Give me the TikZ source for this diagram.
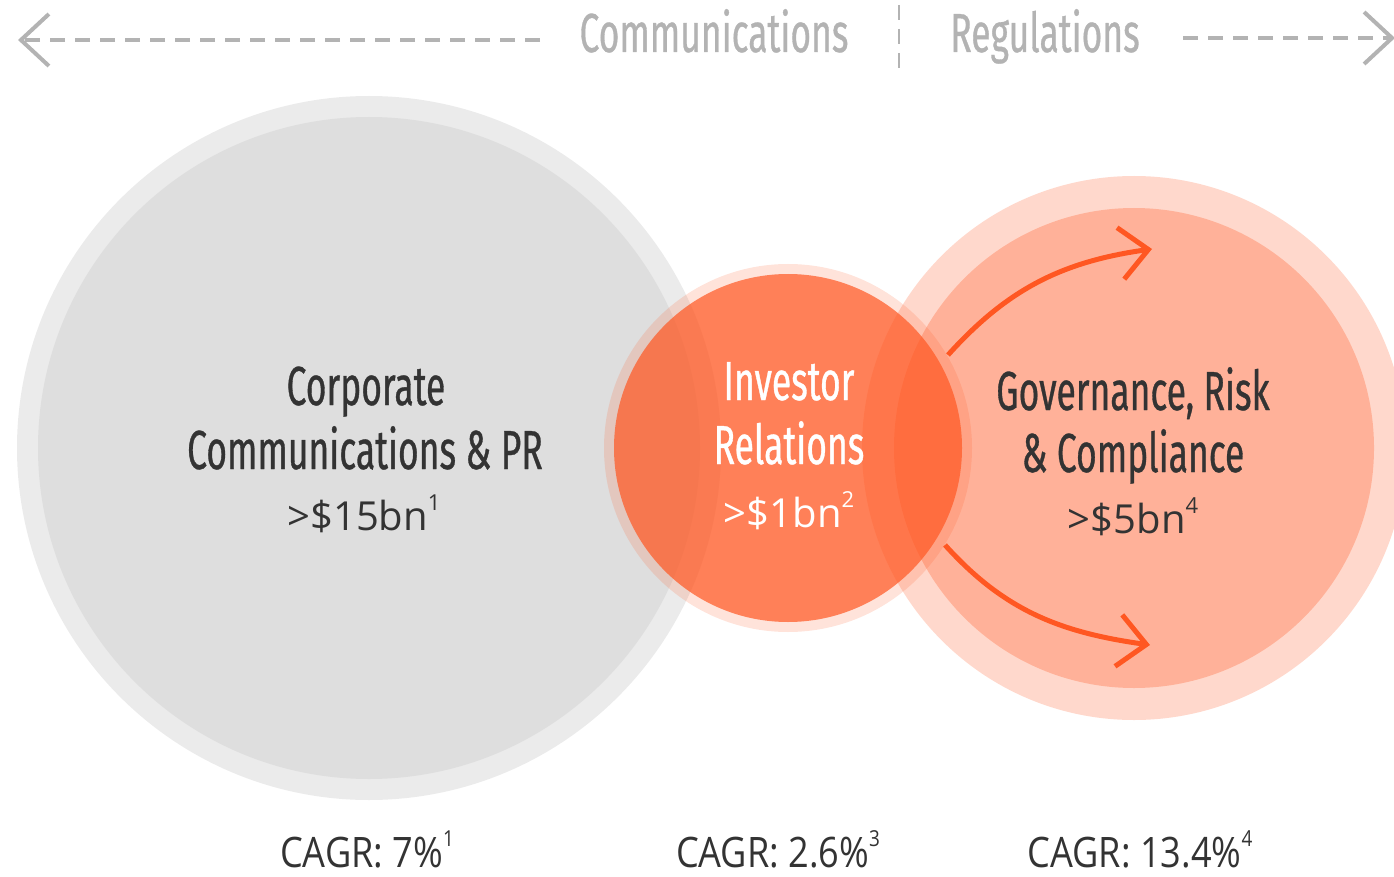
\documentclass[tikz,border=0pt]{standalone}
\usepackage{fontspec}
\setmainfont{Open Sans}
\newfontfamily\condfont[FakeStretch=0.645,FakeBold=0.6]{Fira Sans}
\newfontfamily\cagrfont[FakeStretch=0.86]{Open Sans}
\usetikzlibrary{arrows.meta}

\definecolor{ringgray}{HTML}{EBEBEB}
\definecolor{coregray}{HTML}{DEDEDE}
\definecolor{headgray}{HTML}{B3B3B3}
\definecolor{textdark}{HTML}{333333}
\definecolor{accent}{HTML}{FF5722}

\newcommand{\fn}[1]{\raisebox{0.5em}{\fontsize{22}{22}\selectfont #1}}

\tikzset{
  head/.style={font=\condfont\fontsize{55}{60}\selectfont, text=headgray, inner sep=0pt, anchor=base},
  title/.style={font=\condfont\fontsize{55}{60}\selectfont, text=textdark, inner sep=0pt, anchor=base},
  amount/.style={font=\fontsize{40}{44}\selectfont, text=textdark, inner sep=0pt, anchor=base},
  cagr/.style={font=\cagrfont\fontsize{42}{46}\selectfont, text=textdark, inner sep=0pt, anchor=base},
  dashline/.style={headgray, line width=4pt, dash pattern=on 15pt off 10pt,
    -{Straight Barb[length=28pt,width=52pt]}},
  divider/.style={headgray, line width=2.5pt, dash pattern=on 15pt off 9pt},
  flow/.style={accent, line width=5pt, -{Straight Barb[length=28pt,width=52pt]}}
}

\begin{document}
\begin{tikzpicture}[x=1pt,y=-1pt]
  \useasboundingbox (0,0) rectangle (1394,877);
  %\draw [help lines] (0,0) grid[step=100] (1394,877);

  % circles
  \fill[ringgray] (369,448) circle (352pt);
  \fill[coregray] (369,448) circle (331pt);
  \fill[accent, opacity=0.23] (1134,448) circle (272pt);
  \fill[accent, opacity=0.30] (1134,448) circle (240pt);
  \fill[accent, opacity=0.17] (788,448) circle (184pt);
  \fill[accent, opacity=0.71] (788,448) circle (174pt);

  % header
  \node[head] (comm) at (714,52) {Communications};
  \node[head] (regu) at (1045,52) {Regulations};
  \coordinate (lstart) at (540,40);
  \coordinate (lend) at (18,40);
  \coordinate (rstart) at (1183,38);
  \coordinate (rend) at (1395,38);
  \coordinate (divtop) at (899,5);
  \coordinate (divbot) at (899,68);
  \draw[dashline] (lstart) -- (lend);
  \draw[dashline] (rstart) -- (rend);
  \draw[divider] (divtop) -- (divbot);

  % texts
  \node[title] (corp1) at (366,405) {Corporate};
  \node[title] (corp2) at (365,469) {Communications \& PR};
  \node[amount] (corpv) at (364,530) {>\$15bn\fn{1}};
  \node[title, text=white] (inv1) at (789,400) {Investor};
  \node[title, text=white] (inv2) at (789,464) {Relations};
  \node[amount, text=white] (invv) at (789,527) {>\$1bn\fn{2}};
  \node[title] (grc1) at (1133,410) {Governance, Risk};
  \node[title] (grc2) at (1133,472) {\& Compliance};
  \node[amount] (grcv) at (1133,533) {>\$5bn\fn{4}};

  \node[cagr] (corpc) at (367,867) {CAGR: 7\%\fn{1}};
  \node[cagr] (invc) at (778,867) {CAGR: 2.6\%\fn{3}};
  \node[cagr] (grcc) at (1140,867) {CAGR: 13.4\%\fn{4}};

  % arrows
  \coordinate (up0) at (948,355);
  \coordinate (up1) at (1152,249);
  \coordinate (dn0) at (945,545);
  \coordinate (dn1) at (1150,645);
  \draw[flow] (up0) to[out=48, in=188] (up1);
  \draw[flow] (dn0) to[out=-48, in=172] (dn1);
\end{tikzpicture}
\end{document}
